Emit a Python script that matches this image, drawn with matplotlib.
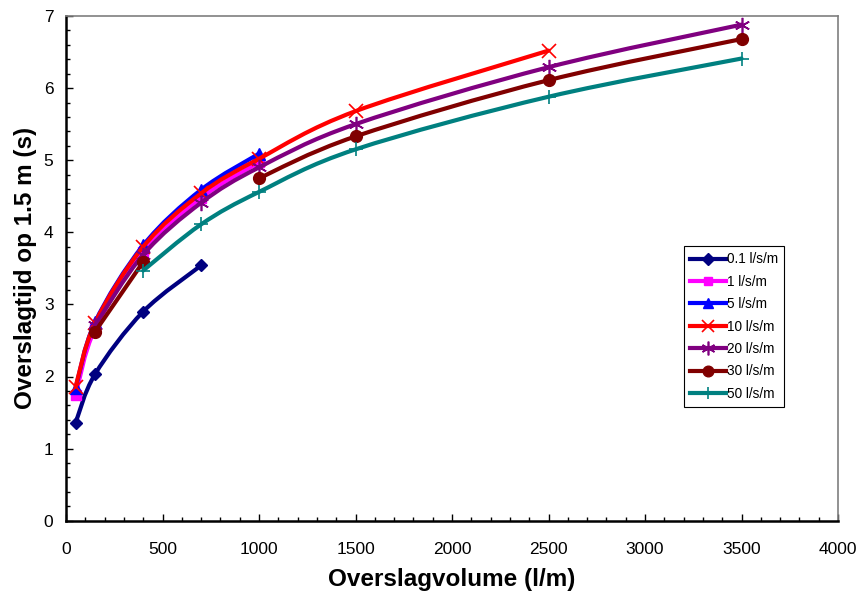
import numpy as np
import matplotlib
matplotlib.use('Agg')
from matplotlib import pyplot as plt
from matplotlib.path import Path
from matplotlib.patches import PathPatch
from matplotlib.lines import Line2D
from matplotlib.ticker import MultipleLocator

plt.rcParams['font.family'] = ['Liberation Sans', 'DejaVu Sans']

# overslagvolume (l/m) per reeks, NaN = ontbrekende waarde
x_01 = [50, 150, 400, 700]
y_01 = [1.36, 2.03, 2.90, 3.54]
x_1 = [50, 150, 400, 700, 1000]
y_1 = [1.75, 2.66, 3.72, 4.48, 4.97]
x_5 = [50, 150, 400, 700, 1000]
y_5 = [1.84, 2.75, 3.82, 4.59, 5.09]
x_10 = [50, 150, 400, 700, 1000, 1500, 2500]
y_10 = [1.86, 2.74, 3.80, 4.54, 5.02, 5.68, 6.52]
x_20 = [150, 400, 700, 1000, 1500, 2500, 3500]
y_20 = [2.71, 3.69, 4.41, 4.90, 5.50, 6.29, 6.88]
x_30 = [150, 400, 700, 1000, 1500, 2500, 3500]
y_30 = [2.62, 3.59, np.nan, 4.75, 5.33, 6.11, 6.68]
x_50 = [400, 700, 1000, 1500, 2500, 3500]
y_50 = [3.47, 4.11, 4.56, 5.15, 5.88, 6.41]

labels = ['0.1 l/s/m', '1 l/s/m', '5 l/s/m', '10 l/s/m', '20 l/s/m', '30 l/s/m', '50 l/s/m']
kleuren = ['#000080', '#FF00FF', '#0000FF', '#FF0000', '#800080', '#800000', '#008080']
asterisk = (6, 2, 0)
markers = ['D', 's', '^', 'x', asterisk, 'o', '+']
msizes = [6.5, 7, 8, 10, 11, 8.5, 10]
reeksen = [(x_01, y_01), (x_1, y_1), (x_5, y_5), (x_10, y_10),
           (x_20, y_20), (x_30, y_30), (x_50, y_50)]


def gladde_lijn(xs, ys):
    # Bezier-pad door de punten (zoals "vloeiende lijn" in Excel)
    p = np.column_stack([xs, ys]).astype(float)
    n = len(p)
    verts = [p[0]]
    codes = [Path.MOVETO]
    for i in range(n - 1):
        pv = p[i - 1] if i > 0 else p[i]
        pn = p[i + 2] if i + 2 < n else p[i + 1]
        c1 = p[i] + (p[i + 1] - pv) / 6.0
        c2 = p[i + 1] - (pn - p[i]) / 6.0
        verts += [c1, c2, p[i + 1]]
        codes += [Path.CURVE4] * 3
    return Path(verts, codes)


fig = plt.figure(figsize=(8.64, 5.93), dpi=100)
ax = fig.add_axes([66 / 864, 1 - 520.7 / 593, 772 / 864, 504.7 / 593])

handles = []
for k, (xs, ys) in enumerate(reeksen):
    xs = np.array(xs, dtype=float)
    ys = np.array(ys, dtype=float)
    ok = ~np.isnan(ys)
    # lijn opsplitsen bij ontbrekende waarden
    stukken = np.split(np.arange(len(ys)), np.where(~ok)[0])
    for s in stukken:
        s = s[ok[s]]
        if len(s) > 1:
            ax.add_patch(PathPatch(gladde_lijn(xs[s], ys[s]), fill=False,
                                   edgecolor=kleuren[k], lw=3, zorder=2 + k,
                                   capstyle='round', joinstyle='round'))
    mew = 1.2 if markers[k] in ('x', '+', asterisk) else 1
    ax.plot(xs[ok], ys[ok], ls='none', marker=markers[k], ms=msizes[k],
            color=kleuren[k], mec=kleuren[k], mew=mew, zorder=2.5 + k)
    handles.append(Line2D([], [], color=kleuren[k], lw=3, marker=markers[k],
                          ms=msizes[k] * 0.9, mew=mew, mec=kleuren[k]))

ax.set_xlim(0, 4000)
ax.set_ylim(0, 7)
ax.xaxis.set_major_locator(MultipleLocator(500))
ax.xaxis.set_minor_locator(MultipleLocator(100))
ax.yaxis.set_major_locator(MultipleLocator(1))
ax.yaxis.set_minor_locator(MultipleLocator(0.2))
ax.tick_params(which='both', direction='in', top=False, right=False,
               labelsize=12.5, width=1)
ax.tick_params(which='major', length=5)
ax.tick_params(which='minor', length=3)
ax.tick_params(axis='x', which='major', pad=15)
ax.tick_params(axis='y', which='major', pad=9)

for kant in ['left', 'bottom']:
    ax.spines[kant].set_linewidth(1.8)
    ax.spines[kant].set_color('black')
for kant in ['top', 'right']:
    ax.spines[kant].set_linewidth(1.2)
    ax.spines[kant].set_color('#7f7f7f')

ax.set_xlabel('Overslagvolume (l/m)', fontsize=17.5, fontweight='bold', labelpad=8)
ax.set_ylabel('Overslagtijd op 1.5 m (s)', fontsize=17.5, fontweight='bold', labelpad=5)

leg = ax.legend(handles, labels, loc='upper left', bbox_to_anchor=(0.80, 0.544),
                fontsize=9.8, frameon=True, fancybox=False, framealpha=1,
                edgecolor='black', handlelength=2.65, handletextpad=0.1,
                labelspacing=0.62, borderpad=0.45, borderaxespad=0)
leg.get_frame().set_linewidth(0.8)

plt.savefig('out.png', dpi=100)
